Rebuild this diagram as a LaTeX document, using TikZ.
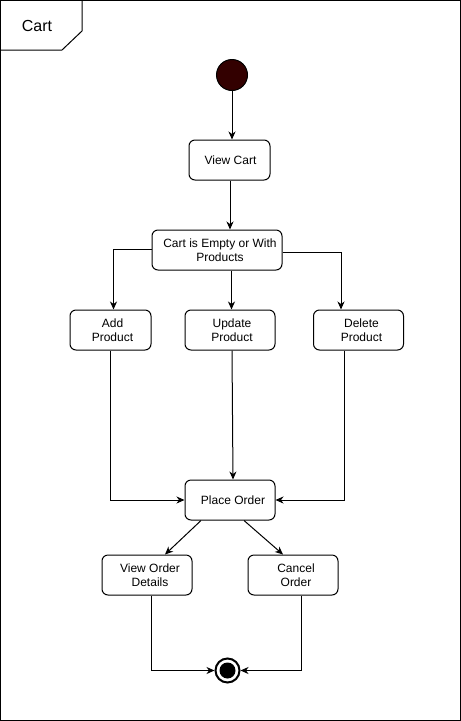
\documentclass[tikz,border=0pt]{standalone}
\usepackage{fontspec}
\setmainfont{Liberation Sans}
\usetikzlibrary{arrows.meta}
\definecolor{startfill}{RGB}{51,0,0}
\begin{document}
\begin{tikzpicture}[x=1pt,y=-1pt,
  box/.style={draw, line width=1pt, rounded corners=6pt, minimum height=40pt, inner sep=0pt},
  lbl/.style={font=\fontsize{12}{14}\selectfont, align=center, inner sep=0pt},
  arr/.style={line width=1pt, -{Stealth[length=8pt,width=7pt,inset=2.5pt]}},
  ln/.style={line width=1pt}]
\useasboundingbox (0,0) rectangle (461,721);
% frame
\draw[ln] (0.5,0.5) rectangle (460.5,720.5);
\draw[ln] (82,0.5) -- (82,31) -- (62,50) -- (0.5,50);
\node[lbl, font=\fontsize{16}{18}\selectfont] (title) at (37,26) {Cart};
% start / end
\node[circle, draw, line width=1pt, fill=startfill, minimum size=31pt, inner sep=0pt] (start) at (232,75) {};
\node[circle, draw, line width=2pt, minimum size=24pt, inner sep=0pt] (end) at (227.5,670.5) {};
\fill (end.center) circle (8pt);
% boxes
\node[box, minimum width=81pt] (vc) at (229.5,160) {};
\node[lbl] at ([xshift=1]vc.center) {View Cart};
\node[box, minimum width=130pt] (ce) at (217,250) {};
\node[lbl] at ([xshift=3]ce.center) {Cart is Empty or With\\Products};
\node[box, minimum width=81pt] (ap) at (110.5,330) {};
\node[lbl] at ([xshift=2]ap.center) {Add\\Product};
\node[box, minimum width=90pt] (up) at (230,330) {};
\node[lbl] at ([xshift=2]up.center) {Update\\Product};
\node[box, minimum width=90pt] (dp) at (358.5,330) {};
\node[lbl] at ([xshift=3]dp.center) {Delete\\Product};
\node[box, minimum width=90pt] (po) at (230,500) {};
\node[lbl] at ([xshift=3]po.center) {Place Order};
\node[box, minimum width=90pt] (vo) at (147,575) {};
\node[lbl] at ([xshift=3]vo.center) {View Order\\Details};
\node[box, minimum width=90pt] (co) at (293,575) {};
\node[lbl] at ([xshift=3]co.center) {Cancel\\Order};
% connectors
\draw[arr] (start.south) -- (start.south |- vc.north);
\draw[arr] ([xshift=0.5]vc.south) -- ([xshift=0.5]vc.south |- ce.north);
\coordinate (cl) at ([yshift=1]ce.west);
\coordinate (cr) at ([yshift=-2.5]ce.east);
\draw[arr] (cl) -- ([xshift=3]ap.north |- cl) -- ([xshift=3]ap.north);
\draw[arr] (cr) -- ([xshift=-17.5]dp.north |- cr) -- ([xshift=-17.5]dp.north);
\draw[arr] ([xshift=1.5]up.north |- ce.south) -- ([xshift=1.5]up.north);
\draw[arr] ([xshift=2]up.south) -- ([xshift=3]po.north);
\draw[arr] ([xshift=-0.5]ap.south) -- ([xshift=-0.5]ap.south |- po.west) -- (po.west);
\draw[arr] ([xshift=-14.5]dp.south) -- ([xshift=-14.5]dp.south |- po.east) -- (po.east);
\draw[arr] ([xshift=-29]po.south) -- ([xshift=18]vo.north);
\draw[arr] ([xshift=14]po.south) -- ([xshift=-10]co.north);
\draw[arr] ([xshift=4]vo.south) -- ([xshift=4]vo.south |- end.west) -- (end.west);
\draw[arr] ([xshift=8]co.south) -- ([xshift=8]co.south |- end.east) -- (end.east);
\end{tikzpicture}
\end{document}
